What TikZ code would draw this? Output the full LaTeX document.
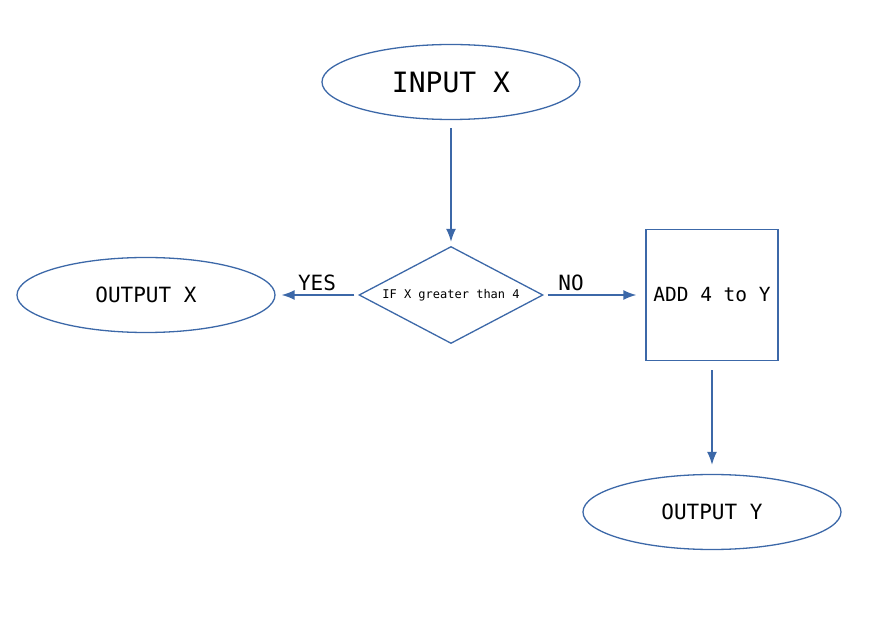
\documentclass[tikz,border=0pt]{standalone}
\usepackage{fontspec}
\setmainfont{DejaVu Sans Mono}
\usetikzlibrary{shapes,arrows.meta}
\definecolor{flowblue}{RGB}{60,104,168}

\begin{document}
\begin{tikzpicture}[node distance = 2.5cm, auto]
	% % % % % % % % % % % % % % % % % % % % % % % % % % % % % %
	% Define styles
	\tikzstyle{term} = [ellipse, draw=flowblue, line width=1.3pt, minimum width=258pt,
					    minimum height=75pt, inner sep=0pt, font=\fontsize{21}{25}\selectfont]
	\tikzstyle{decision} = [diamond, draw=flowblue, line width=1.3pt, aspect=1.9, minimum width=184pt,
					        minimum height=97pt, inner sep=0pt, font=\fontsize{12}{14}\selectfont]
	\tikzstyle{block} = [rectangle, draw=flowblue, line width=1.3pt, minimum width=132pt,
					     minimum height=131pt, inner sep=0pt, font=\fontsize{19.5}{23}\selectfont]
	\tikzstyle{line} = [draw=flowblue, line width=1.5pt, -{Latex[length=13pt,width=10pt]}]
	\tikzstyle{answer} = [font=\fontsize{21}{25}\selectfont, inner sep=3pt]
	
	\useasboundingbox (-451pt,82pt) rectangle (425pt,-538pt);
	% % % % % % % % % % % % % % % % % % % % % % % % % % % % % %
	% Place nodes
	% start
	\node [term, font=\fontsize{28}{32}\selectfont] (in) {INPUT X};
	% test
	\node [decision, below of=in, node distance = 213pt] (cond) {IF X greater than 4};
	% yes branch
	\node [term, left of=cond, node distance = 305pt] (outx) {OUTPUT X};
	% no branch
	\node [block, right of=cond, node distance = 261pt] (add) {ADD 4 to Y};
	\node [term, below of=add, node distance = 217pt] (outy) {OUTPUT Y};
	
	% Draw edges
	\path [line, shorten <=8pt, shorten >=4pt] (in) -- (cond);
	\path [line, shorten <=4pt, shorten >=6pt] (cond) -- node [answer, above] {YES} (outx);
	\path [line, shorten <=4pt, shorten >=9pt] (cond) -- node [answer, above, pos=0.27] {NO} (add);
	\path [line, shorten <=9pt, shorten >=9pt] (add) -- (outy);
\end{tikzpicture}
\end{document}
